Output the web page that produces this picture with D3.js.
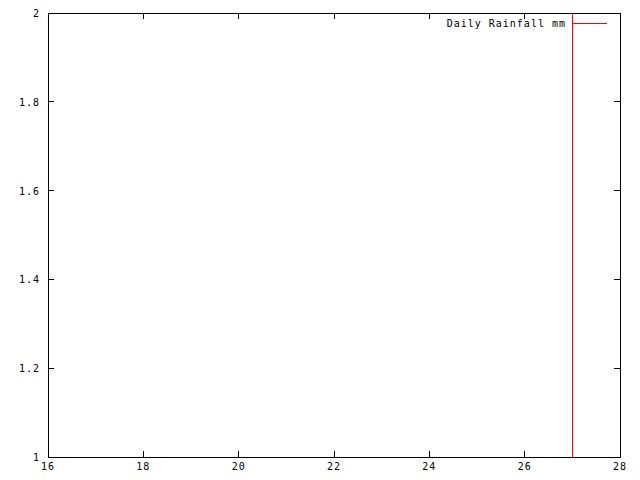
<!DOCTYPE html>
<html>
<head>
<meta charset="utf-8">
<script src="https://cdn.jsdelivr.net/npm/d3@7"></script>
<style>
  body { margin: 0; background: #fff; }
  text { font-family: "DejaVu Sans Mono", monospace; font-size: 10px; letter-spacing: 1px; }
</style>
</head>
<body>
<script>
// data: one rainfall reading, drawn as an impulse
const days = [27];
const rainfall = [3];
const xTicks = [16, 18, 20, 22, 24, 26, 28];
const yTicks = [1, 1.2, 1.4, 1.6, 1.8, 2];
const seriesName = 'Daily Rainfall mm';

const width = 640, height = 480;
const margin = {top: 13, right: 20, bottom: 23, left: 48};

const svg = d3.select('body').append('svg')
  .attr('width', width)
  .attr('height', height);

const x = d3.scaleLinear().domain([16, 28]).range([margin.left, width - margin.right]);
const y = d3.scaleLinear().domain([1, 2]).range([height - margin.bottom, margin.top]);

const tickLen = 6;
const x0 = margin.left, x1 = width - margin.right;
const y0 = height - margin.bottom, y1 = margin.top;

// ticks (inward, mirrored)
const g = svg.append('g').attr('stroke', '#000').attr('stroke-width', 1).attr('shape-rendering', 'crispEdges');
xTicks.forEach(t => {
  g.append('line').attr('x1', x(t)).attr('x2', x(t)).attr('y1', y0).attr('y2', y0 - tickLen);
  g.append('line').attr('x1', x(t)).attr('x2', x(t)).attr('y1', y1).attr('y2', y1 + tickLen);
});
yTicks.forEach(t => {
  g.append('line').attr('x1', x0).attr('x2', x0 + tickLen).attr('y1', y(t)).attr('y2', y(t));
  g.append('line').attr('x1', x1).attr('x2', x1 - tickLen).attr('y1', y(t)).attr('y2', y(t));
});

// tick labels
svg.selectAll('.xl').data(xTicks).enter().append('text')
  .attr('x', d => x(d))
  .attr('y', y0 + 13)
  .attr('text-anchor', 'middle')
  .text(d => d);
svg.selectAll('.yl').data(yTicks).enter().append('text')
  .attr('x', x0 - 8)
  .attr('y', d => y(d) + 4)
  .attr('text-anchor', 'end')
  .text(d => d);

// impulses, clipped to plot area
svg.append('clipPath').attr('id', 'clip').append('rect')
  .attr('x', x0).attr('y', y1).attr('width', x1 - x0).attr('height', y0 - y1);
svg.append('g').attr('clip-path', 'url(#clip)')
  .selectAll('line').data(days).enter().append('line')
  .attr('x1', d => x(d)).attr('x2', d => x(d))
  .attr('y1', y(0))
  .attr('y2', (d, i) => y(rainfall[i]))
  .attr('stroke', '#f00')
  .attr('stroke-width', 1)
  .attr('shape-rendering', 'crispEdges');

// legend
svg.append('text')
  .attr('x', 566)
  .attr('y', 27)
  .attr('text-anchor', 'end')
  .text(seriesName);
svg.append('line')
  .attr('x1', 573).attr('x2', 607).attr('y1', 23.5).attr('y2', 23.5)
  .attr('stroke', '#f00').attr('shape-rendering', 'crispEdges');

// border
svg.append('rect')
  .attr('x', x0 + 0.5).attr('y', y1 + 0.5)
  .attr('width', x1 - x0).attr('height', y0 - y1)
  .attr('fill', 'none').attr('stroke', '#000').attr('shape-rendering', 'crispEdges');
</script>
</body>
</html>
